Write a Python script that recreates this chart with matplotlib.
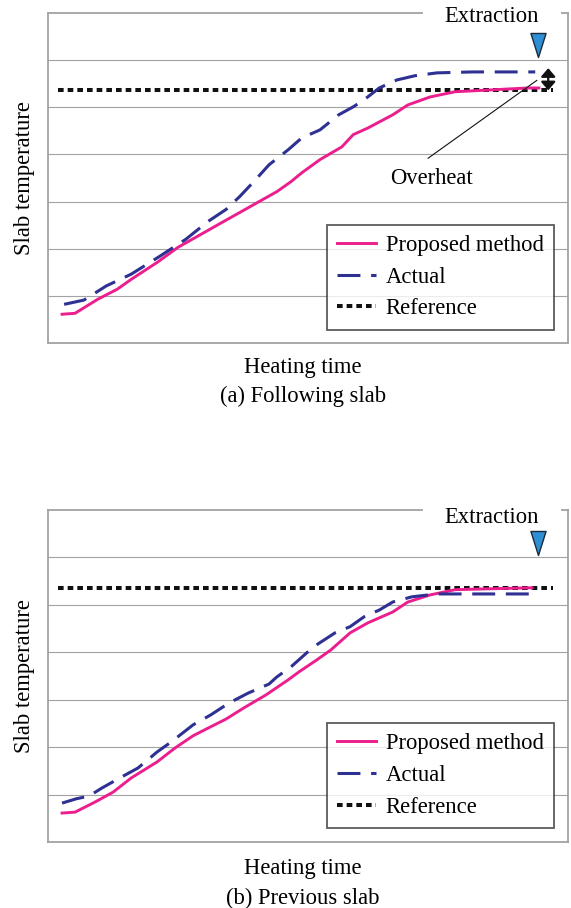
import matplotlib
matplotlib.use("Agg")
import matplotlib.pyplot as plt
from matplotlib.path import Path

plt.rcParams['font.family'] = ['Liberation Serif', 'DejaVu Serif']

# ---------------- data (time in % of heating period, temperature in grid units)
top_prop_x = [2.7, 5.2, 9.6, 13.3, 16.0, 21.0, 25.0, 28.7, 33.5, 36.9, 40.6, 44.0, 46.7, 48.8,
              52.3, 56.5, 58.7, 61.5, 66.3, 69.2, 73.5, 78.3, 85.4, 92.3, 94.4]
top_prop_y = [0.61, 0.63, 0.93, 1.14, 1.35, 1.71, 2.03, 2.26, 2.56, 2.77, 3.00, 3.21, 3.42, 3.61,
              3.89, 4.16, 4.42, 4.56, 4.84, 5.05, 5.22, 5.33, 5.37, 5.41, 5.41]
top_act_x = [3.1, 6.9, 11.2, 16.0, 21.5, 26.5, 30.8, 34.2, 36.9, 39.8, 42.5, 46.2, 48.8, 52.3,
             55.9, 58.7, 60.8, 63.7, 67.1, 70.6, 74.8, 81.7, 88.8, 93.7]
top_act_y = [0.82, 0.91, 1.21, 1.46, 1.84, 2.20, 2.58, 2.83, 3.11, 3.45, 3.78, 4.10, 4.35, 4.52,
             4.84, 5.01, 5.16, 5.41, 5.58, 5.67, 5.73, 5.75, 5.75, 5.75]
top_ref_x = [1.9, 97.1]
top_ref_y = [5.37, 5.37]

bot_prop_x = [2.7, 5.2, 9.0, 12.5, 16.0, 21.0, 24.4, 27.9, 31.3, 34.2, 37.7, 41.9, 46.2, 48.3,
              51.7, 54.4, 58.1, 61.5, 66.3, 69.2, 73.5, 78.3, 85.4, 93.1]
bot_prop_y = [0.61, 0.63, 0.84, 1.05, 1.35, 1.69, 1.98, 2.24, 2.43, 2.59, 2.83, 3.10, 3.42, 3.59,
              3.84, 4.05, 4.41, 4.62, 4.85, 5.06, 5.21, 5.32, 5.34, 5.36]
bot_act_x = [2.7, 5.4, 7.9, 10.4, 13.8, 17.3, 21.0, 23.7, 27.9, 31.3, 34.8, 38.5, 42.5, 44.0,
             46.7, 51.0, 55.2, 58.1, 60.8, 63.7, 66.3, 70.0, 74.8, 81.7, 93.7]
bot_act_y = [0.82, 0.91, 0.97, 1.14, 1.35, 1.56, 1.90, 2.11, 2.47, 2.68, 2.93, 3.14, 3.33, 3.48,
             3.69, 4.11, 4.41, 4.54, 4.75, 4.89, 5.06, 5.17, 5.23, 5.23, 5.23]
bot_ref_x = [1.9, 97.1]
bot_ref_y = [5.36, 5.36]

series_labels = ["Proposed method", "Actual", "Reference"]
captions = ["(a) Following slab", "(b) Previous slab"]
xlabel = "Heating time"
ylabel = "Slab temperature"
extraction_x = 94.2
extraction_y = [6.32, 6.30]
extraction_text_y = [6.93, 6.85]
overheat_x = 96.2
overheat_y = (5.83, 5.36)

PINK = '#EC1E8E'
BLUE = '#2E3192'
GRID = '#A3A3A3'
FS = 16.3

fig = plt.figure(figsize=(5.71, 9.08), dpi=100)
ax_top = fig.add_axes([48 / 571, 1 - 343 / 908, 520 / 571, 330 / 908])
ax_bot = fig.add_axes([48 / 571, 1 - 842 / 908, 520 / 571, 332 / 908])

tri = Path([(-0.63, 1.0), (0.63, 1.0), (0.0, -1.0), (-0.63, 1.0)],
           [Path.MOVETO, Path.LINETO, Path.LINETO, Path.CLOSEPOLY])

panels = [
    (ax_top, top_prop_x, top_prop_y, top_act_x, top_act_y, top_ref_x, top_ref_y, captions[0],
     extraction_y[0], extraction_text_y[0], (-0.073, -0.163)),
    (ax_bot, bot_prop_x, bot_prop_y, bot_act_x, bot_act_y, bot_ref_x, bot_ref_y, captions[1],
     extraction_y[1], extraction_text_y[1], (-0.081, -0.171)),
]

for i, (ax, px, py, axx, ayy, rx, ry, cap, ey, ety, lab_y) in enumerate(panels):
    ax.set_xlim(0, 100)
    ax.set_ylim(0, 7)
    ax.set_xticks([])
    ax.set_yticks(range(1, 7))
    ax.tick_params(axis='y', length=0, labelleft=False)
    ax.grid(axis='y', color=GRID, lw=0.8)
    for s in ax.spines.values():
        s.set_color(GRID)
        s.set_linewidth(1.3)

    ax.plot(px, py, color=PINK, lw=2.1, label=series_labels[0], zorder=4,
            solid_joinstyle='round')
    ax.plot(axx, ayy, color=BLUE, lw=2.2, dashes=(7.5, 3.5), label=series_labels[1], zorder=4)
    ax.plot(rx, ry, color='#111111', lw=2.9, dashes=(1.4, 1.0), label=series_labels[2], zorder=3)

    ax.plot([extraction_x], [ey], marker=tri, markersize=17.3, color='#2E8FD4',
            markeredgecolor='#1C2B3A', markeredgewidth=1.0, zorder=6, clip_on=False)
    ax.text(85.4, ety, "Extraction", fontsize=FS, ha='center', va='center', zorder=5,
            clip_on=False,
            bbox=dict(boxstyle='square,pad=0.95', facecolor='white', edgecolor='none'))

    ax.text(0.49, lab_y[0], xlabel, transform=ax.transAxes, fontsize=FS,
            ha='center', va='center')
    ax.text(0.49, lab_y[1], cap, transform=ax.transAxes, fontsize=FS,
            ha='center', va='center')
    ax.text(-0.046, 0.5, ylabel, transform=ax.transAxes, fontsize=FS, rotation=90,
            ha='center', va='center')

    leg = ax.legend(loc='upper right', bbox_to_anchor=(0.973, 0.358), fontsize=FS,
                    frameon=True, fancybox=False, handlelength=1.72, handletextpad=0.45,
                    labelspacing=0.47, borderpad=0.45, borderaxespad=0.0)
    leg.get_frame().set_edgecolor('#333333')
    leg.get_frame().set_linewidth(1.3)
    leg.set_zorder(7)

# overheat annotation on top panel
ax_top.annotate("", xy=(overheat_x, overheat_y[0]), xytext=(overheat_x, overheat_y[1]),
                arrowprops=dict(arrowstyle='<|-|>,head_length=5,head_width=4.3',
                                mutation_scale=1, color='#111111', lw=1.6,
                                shrinkA=0, shrinkB=0), zorder=6)
ax_top.plot([73.1, 94.0], [3.92, 5.57], color='#111111', lw=0.8, zorder=5)
ax_top.text(73.8, 3.50, "Overheat", fontsize=FS, ha='center', va='center')

fig.savefig("out.png", dpi=100)
